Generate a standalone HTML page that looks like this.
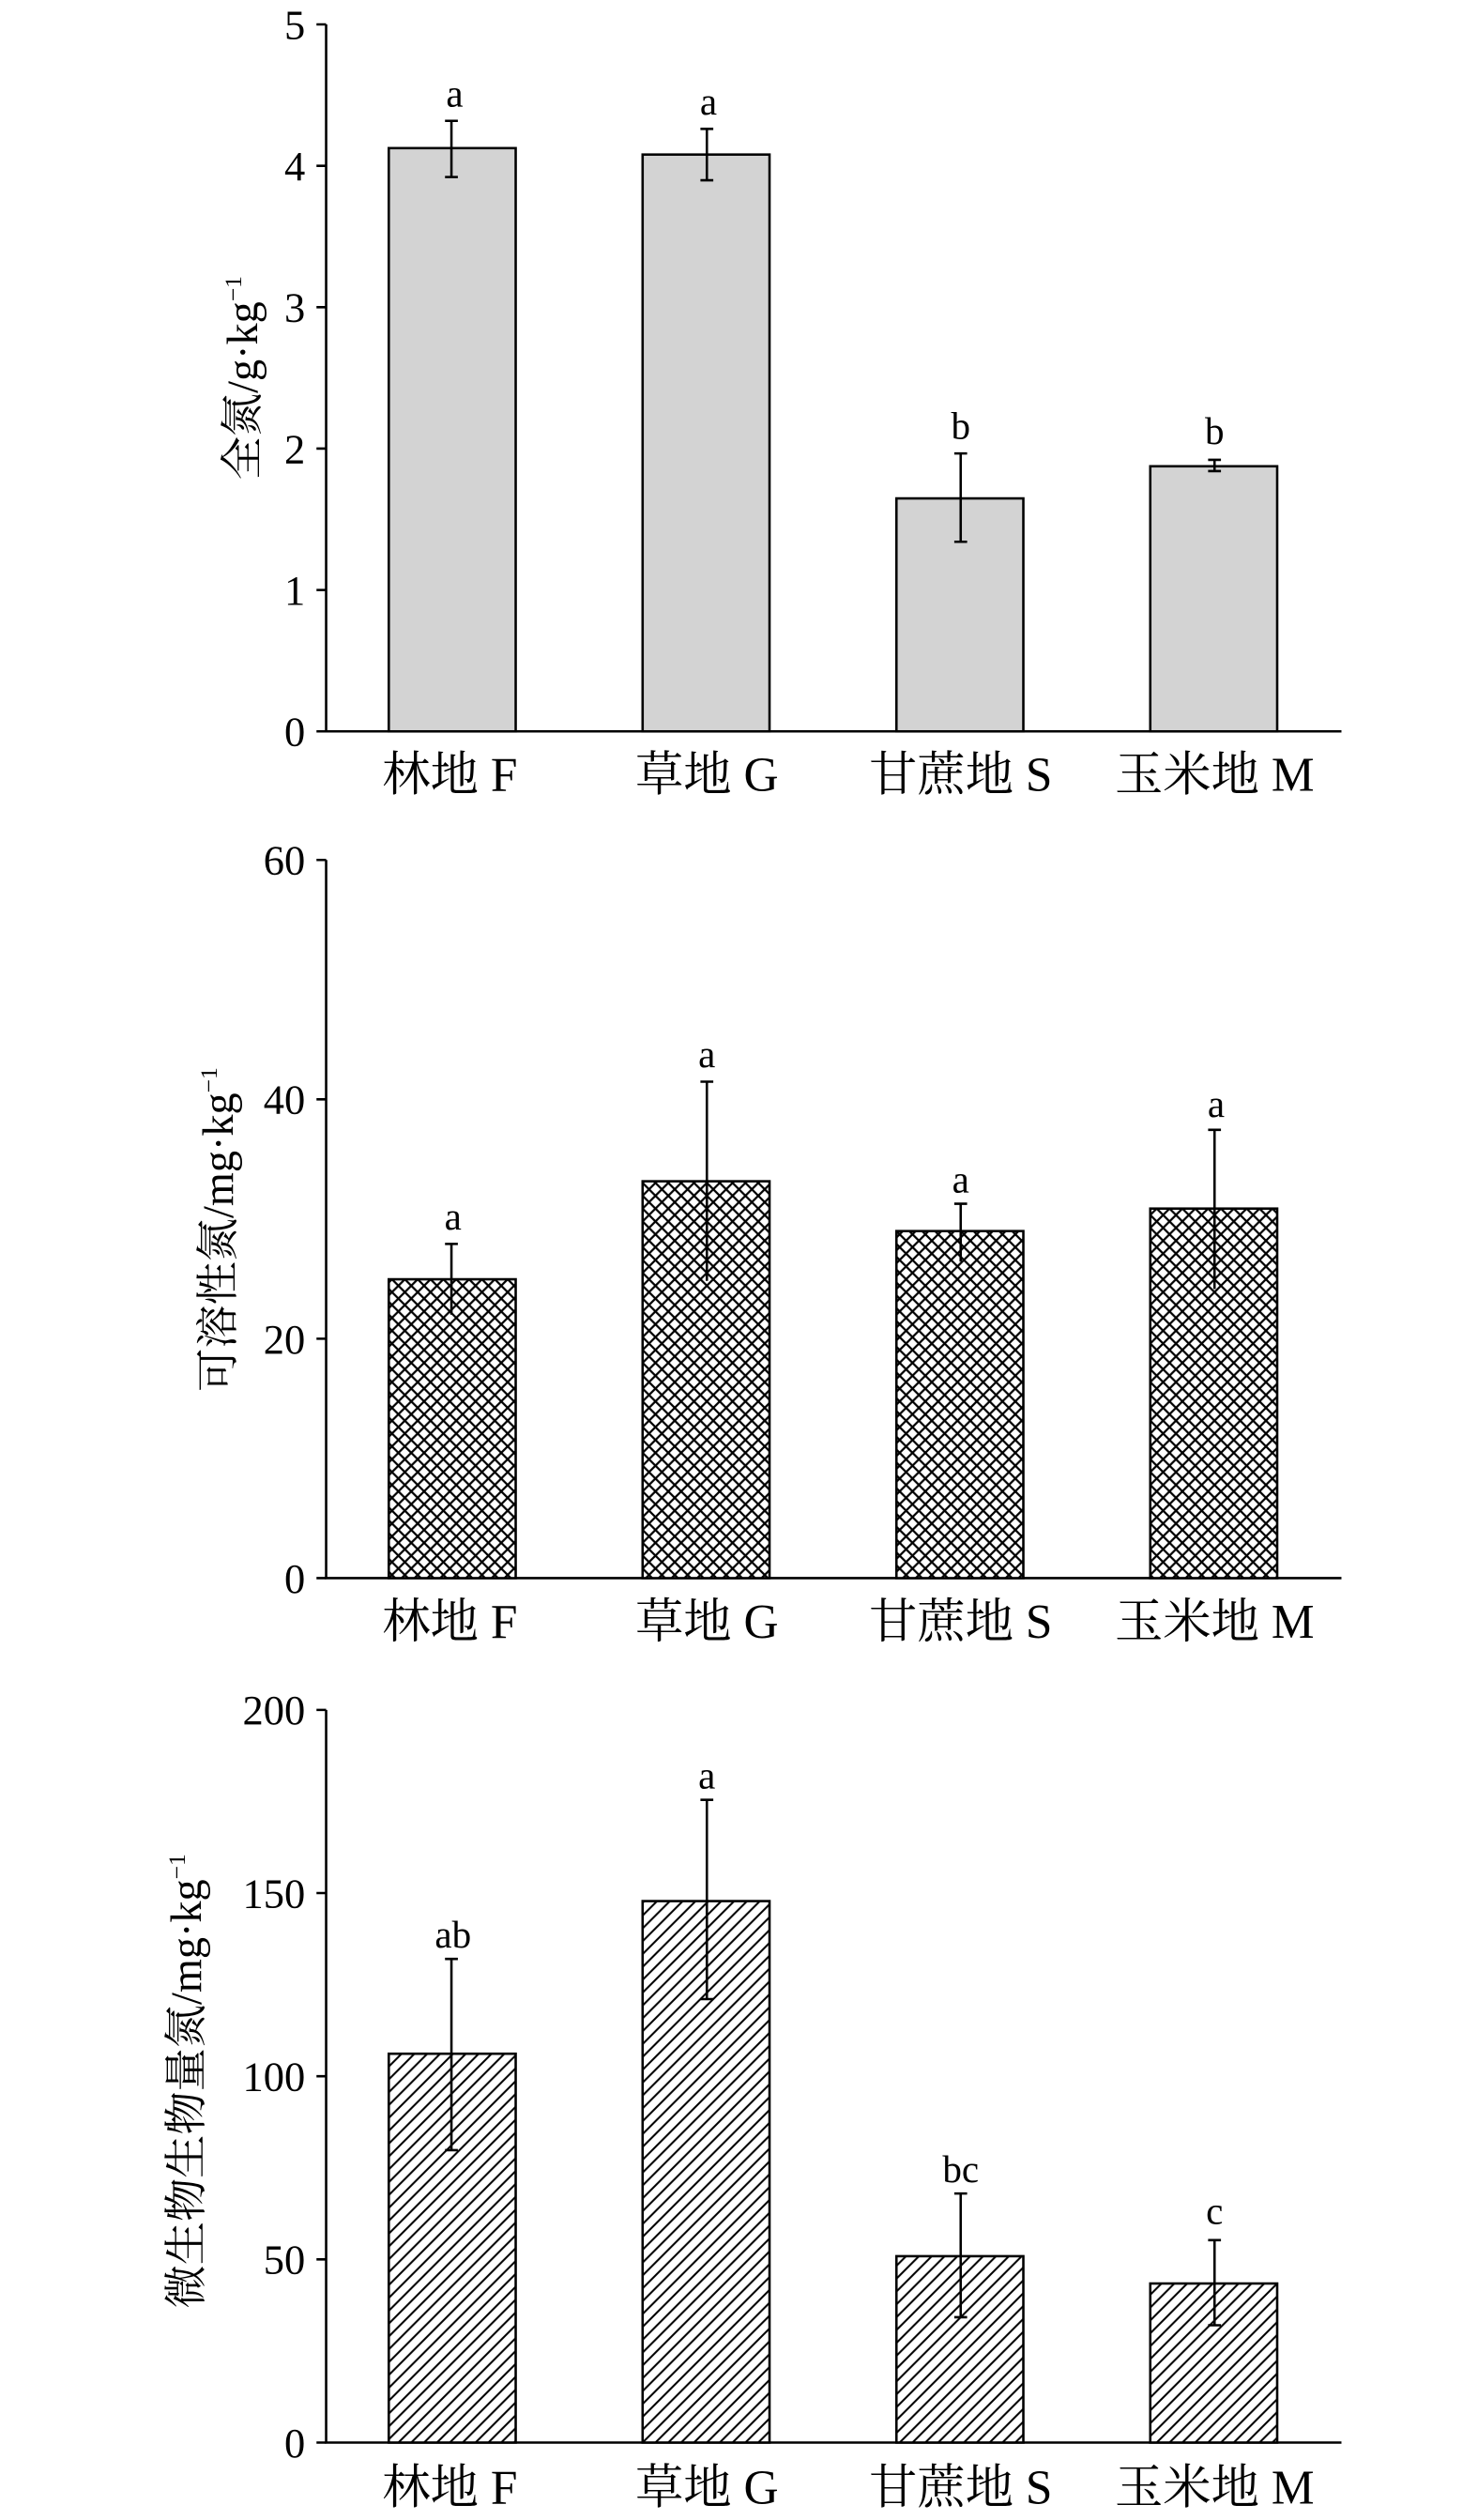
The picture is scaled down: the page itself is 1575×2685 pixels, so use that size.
<!DOCTYPE html>
<html><head><meta charset="utf-8"><style>html,body{margin:0;padding:0;background:#fff}svg{display:block}</style></head>
<body>
<svg width="1575" height="2685" viewBox="0 0 920 1568" xmlns="http://www.w3.org/2000/svg" font-family="'Liberation Serif','Noto Serif CJK SC',serif">
<defs>
<pattern id="xh" width="8" height="8" patternUnits="userSpaceOnUse">
<rect width="8" height="8" fill="#fff"/>
<path d="M-1,1 L1,-1 M0,8 L8,0 M7,9 L9,7 M-1,7 L1,9 M0,0 L8,8 M7,-1 L9,1" stroke="#000" stroke-width="1.3"/>
</pattern>
<pattern id="dh" width="8" height="8" patternUnits="userSpaceOnUse">
<rect width="8" height="8" fill="#fff"/>
<path d="M-1,1 L1,-1 M0,8 L8,0 M7,9 L9,7" stroke="#000" stroke-width="1.2"/>
</pattern>
</defs>
<g stroke="#000" stroke-width="1.5" fill="none">
<path d="M203,15 V455 H835"/>
<path d="M197,15 H203 M197,103 H203 M197,191 H203 M197,279 H203 M197,367 H203 M197,455 H203"/>
<rect x="242" y="92" width="79" height="363" fill="#d3d3d3"/>
<rect x="400" y="96" width="79" height="359" fill="#d3d3d3"/>
<rect x="558" y="310" width="79" height="145" fill="#d3d3d3"/>
<rect x="716" y="290" width="79" height="165" fill="#d3d3d3"/>
<path d="M281,75 V110 M277,75 H285 M277,110 H285 M440,80 V112 M436,80 H444 M436,112 H444 M598,282 V337 M594,282 H602 M594,337 H602 M756,286 V293 M752,286 H760 M752,293 H760"/>
<path d="M203,535 V982 H835"/>
<path d="M197,535 H203 M197,684 H203 M197,833 H203 M197,982 H203"/>
<rect x="242" y="796" width="79" height="186" fill="url(#xh)"/>
<rect x="400" y="735" width="79" height="247" fill="url(#xh)"/>
<rect x="558" y="766" width="79" height="216" fill="url(#xh)"/>
<rect x="716" y="752" width="79" height="230" fill="url(#xh)"/>
<path d="M281,774 V818 M277,774 H285 M440,673 V797 M436,673 H444 M598,749 V785 M594,749 H602 M756,703 V802 M752,703 H760"/>
<path d="M203,1064 V1520 H835"/>
<path d="M197,1064 H203 M197,1178 H203 M197,1292 H203 M197,1406 H203 M197,1520 H203"/>
<rect x="242" y="1278" width="79" height="242" fill="url(#dh)"/>
<rect x="400" y="1183" width="79" height="337" fill="url(#dh)"/>
<rect x="558" y="1404" width="79" height="116" fill="url(#dh)"/>
<rect x="716" y="1421" width="79" height="99" fill="url(#dh)"/>
<path d="M281,1219 V1338 M277,1219 H285 M277,1338 H285 M440,1120 V1244 M436,1120 H444 M436,1244 H444 M598,1365 V1442 M594,1365 H602 M594,1442 H602 M756,1394 V1447 M752,1394 H760 M752,1447 H760"/>
</g>
<g font-size="26" text-anchor="end" fill="#000">
<text x="190" y="24">5</text><text x="190" y="112">4</text><text x="190" y="200">3</text><text x="190" y="288">2</text><text x="190" y="376">1</text><text x="190" y="464">0</text>
<text x="190" y="544">60</text><text x="190" y="693">40</text><text x="190" y="842">20</text><text x="190" y="991">0</text>
<text x="190" y="1073">200</text><text x="190" y="1187">150</text><text x="190" y="1301">100</text><text x="190" y="1415">50</text><text x="190" y="1529">0</text>
</g>
<g font-size="30" text-anchor="middle" fill="#000">
<text x="280" y="492">林地 F</text><text x="440" y="492">草地 G</text><text x="598" y="492">甘蔗地 S</text><text x="756" y="492">玉米地 M</text>
<text x="280" y="1019">林地 F</text><text x="440" y="1019">草地 G</text><text x="598" y="1019">甘蔗地 S</text><text x="756" y="1019">玉米地 M</text>
<text x="280" y="1558">林地 F</text><text x="440" y="1558">草地 G</text><text x="598" y="1558">甘蔗地 S</text><text x="756" y="1558">玉米地 M</text>
</g>
<g font-size="24" text-anchor="middle" fill="#000">
<text x="283" y="66">a</text><text x="441" y="71">a</text><text x="598" y="273">b</text><text x="756" y="276">b</text>
<text x="282" y="765">a</text><text x="440" y="664">a</text><text x="598" y="742">a</text><text x="757" y="695">a</text>
<text x="282" y="1212">ab</text><text x="440" y="1113">a</text><text x="598" y="1358">bc</text><text x="756" y="1384">c</text>
</g>
<g font-size="27" fill="#000">
<text transform="translate(160,235) rotate(-90)" text-anchor="middle">全氮/g·kg<tspan font-size="15" dy="-10">−1</tspan></text>
<text transform="translate(145,765) rotate(-90)" text-anchor="middle">可溶性氮/mg·kg<tspan font-size="15" dy="-10">−1</tspan></text>
<text transform="translate(125,1295) rotate(-90)" text-anchor="middle">微生物生物量氮/mg·kg<tspan font-size="15" dy="-10">−1</tspan></text>
</g>
</svg>
</body></html>
